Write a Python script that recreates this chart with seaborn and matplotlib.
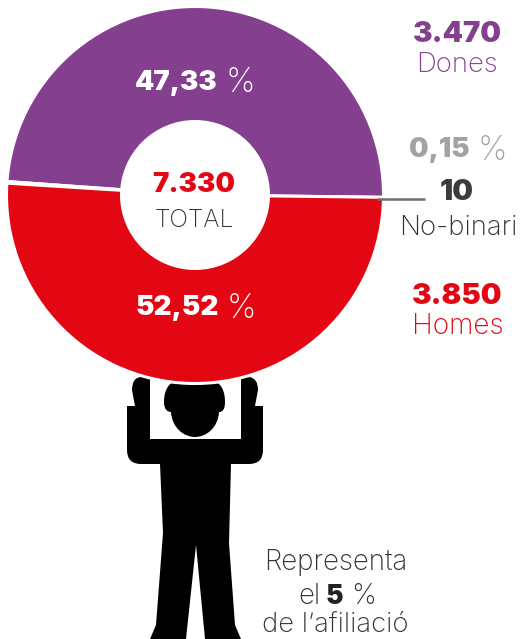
import matplotlib
matplotlib.use("Agg")
import matplotlib.pyplot as plt
from matplotlib.path import Path
from matplotlib.patches import PathPatch, Circle
import seaborn as sns

W, H = 520, 639
sns.set_theme(style="white")
plt.rcParams['font.family'] = ['Inter', 'DejaVu Sans']

# slice shares as drawn in the picture (degrees of the ring)
groups = ["Dones", "No-binari", "Homes"]
drawn_shares = [176.6, 0.5, 182.9]
colors = ["#84408F", "#FFFFFF", "#E30613"]
counts = ["3.470", "10", "3.850"]
pcts = ["47,33", "0,15", "52,52"]
total = "7.330"

fig = plt.figure(figsize=(W/100, H/100), dpi=100)
ax = fig.add_axes([0, 0, 1, 1])
ax.set_xlim(0, W); ax.set_ylim(0, H); ax.axis("off")
Y = lambda y: H - y

# silhouette
sil = [(Path.MOVETO,(150,377)),(Path.LINETO,(150,439)),(Path.LINETO,(241,439)),(Path.LINETO,(241,377)),
(Path.LINETO,(249,377)),(Path.CURVE3,(258,378)),(Path.CURVE3,(258,390)),(Path.LINETO,(255,406)),(Path.LINETO,(263,406)),
(Path.LINETO,(263,450)),(Path.CURVE3,(263,464)),(Path.CURVE3,(249,464)),(Path.LINETO,(231,464)),
(Path.LINETO,(229,543)),(Path.LINETO,(235,625)),(Path.LINETO,(241,639)),(Path.LINETO,(205,639)),(Path.LINETO,(196,545)),
(Path.LINETO,(186,639)),(Path.LINETO,(150,639)),(Path.LINETO,(156,625)),(Path.LINETO,(163,533)),(Path.LINETO,(160,464)),
(Path.LINETO,(141,464)),(Path.CURVE3,(127,464)),(Path.CURVE3,(127,450)),(Path.LINETO,(127,406)),(Path.LINETO,(135,406)),
(Path.LINETO,(132,390)),(Path.CURVE3,(132,377)),(Path.CURVE3,(142,377)),(Path.CLOSEPOLY,(150,377))]
head = [(Path.MOVETO,(195,383)),(Path.CURVE4,(186,377)),(Path.CURVE4,(164,376)),(Path.CURVE4,(164,402)),
(Path.CURVE4,(164,409)),(Path.CURVE4,(167,412)),(Path.CURVE4,(171,412)),(Path.CURVE4,(172,428)),(Path.CURVE4,(184,437)),(Path.CURVE4,(195,437)),
(Path.CURVE4,(206,437)),(Path.CURVE4,(218,428)),(Path.CURVE4,(219,412)),(Path.CURVE4,(223,412)),(Path.CURVE4,(225,409)),(Path.CURVE4,(225,402)),
(Path.CURVE4,(225,376)),(Path.CURVE4,(204,377)),(Path.CURVE4,(195,383)),(Path.CLOSEPOLY,(195,383))]
for shp in (sil, head):
    codes = [c for c, _ in shp]
    pts = [(x, Y(y)) for _, (x, y) in shp]
    ax.add_patch(PathPatch(Path(pts, codes), fc="black", ec="none", zorder=1))

# ring
ax.pie(drawn_shares, colors=colors, center=(195, Y(195)), radius=188.5, startangle=-0.7,
       wedgeprops=dict(edgecolor="white", linewidth=2.2, zorder=2), frame=False)
ax.set_xlim(0, W); ax.set_ylim(0, H); ax.set_aspect("equal"); ax.axis("off")
ax.add_patch(Circle((195, Y(195)), 75, fc="white", ec="none", zorder=3))

# leader
ax.plot([377, 425], [Y(199), Y(199)], color="#6E6E6E", lw=1.8, zorder=4, solid_capstyle="butt")

def t(x, y, s, size, color, weight="light", ha="center"):
    ax.text(x, Y(y), s, fontsize=size, color=color, fontweight=weight, ha=ha, va="center_baseline", zorder=5)

def pct(x, y, val, size, color, pcolor=None):
    t(x, y, val, size, color, "black", "right")
    t(x + 8, y, "%", 24, pcolor or color, "light", "left")

pct(218, 80, pcts[0], 19.8, "white")
pct(219, 305, pcts[2], 20, "white")
pct(470, 147, pcts[1], 19.8, "#A3A3A3")

t(194, 182, total, 19.8, "#E30613", "black")
t(194, 218, "TOTAL", 17.8, "#333333")

t(457, 31, counts[0], 21, "#84408F", "black")
t(457, 62, groups[0], 19.8, "#84408F")
t(457, 190, counts[1], 21, "#3C3C3C", "black")
t(458, 225, groups[1], 19.8, "#333333")
t(457, 293, counts[2], 21, "#E30613", "black")
t(458, 324, groups[2], 20.2, "#E30613")

t(336, 559, "Representa", 20, "#333333")
t(298, 594, "el", 20, "#333333", ha="left")
t(334, 594, "5", 19, "#222222", "black")
t(351, 594, "%", 20, "#333333", ha="left")
t(335, 622, "de l’afiliació", 19.8, "#333333")

fig.savefig("out.png", dpi=100, facecolor="white")
